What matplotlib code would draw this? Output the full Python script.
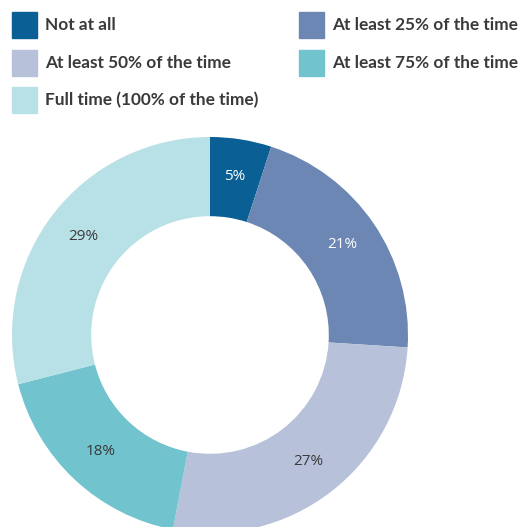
import matplotlib
matplotlib.use('Agg')
import matplotlib.pyplot as plt
from matplotlib.patches import Rectangle

categories = ['Not at all', 'At least 25% of the time', 'At least 50% of the time',
              'At least 75% of the time', 'Full time (100% of the time)']
shares = [5, 21, 27, 18, 29]
colors = ['#0a5f94', '#6c87b3', '#b8c1da', '#71c3ce', '#b8e1e7']
label_colors = ['white', 'white', '#3a3a3a', '#3a3a3a', '#3a3a3a']

W, H = 519, 527
fig = plt.figure(figsize=(W / 100, H / 100), dpi=100)

# donut: centre (210, 335) px, outer radius 198 px
cx, cy, r = 210, 335, 198
ax = fig.add_axes([(cx - r) / W, (H - cy - r) / H, 2 * r / W, 2 * r / H])
wedges, texts = ax.pie(shares, colors=colors, startangle=90, counterclock=False,
                       radius=1.0, wedgeprops=dict(width=0.4, linewidth=0),
                       labels=[f'{v}%' for v in shares], labeldistance=0.81)
for t, c in zip(texts, label_colors):
    t.set_color(c)
    t.set_fontsize(11)
    t.set_family('Open Sans')
    t.set_ha('center')
    t.set_va('center')
ax.set_xlim(-1, 1)
ax.set_ylim(-1, 1)
ax.set_aspect('equal')
ax.axis('off')

# legend, two columns
slots = [(12, 25), (299, 25), (12, 63), (299, 63), (12, 100)]
sq = 25
for (x, y), name, c in zip(slots, categories, colors):
    fig.patches.append(Rectangle((x / W, (H - y - sq / 2) / H), sq / W, sq / H,
                                 transform=fig.transFigure, color=c))
    fig.text((x + 33) / W, (H - y) / H, name, fontsize=12.4, family='Lato',
             fontweight='bold', color='#3a3a3a', va='center', ha='left')

fig.savefig('out.png', dpi=100)
